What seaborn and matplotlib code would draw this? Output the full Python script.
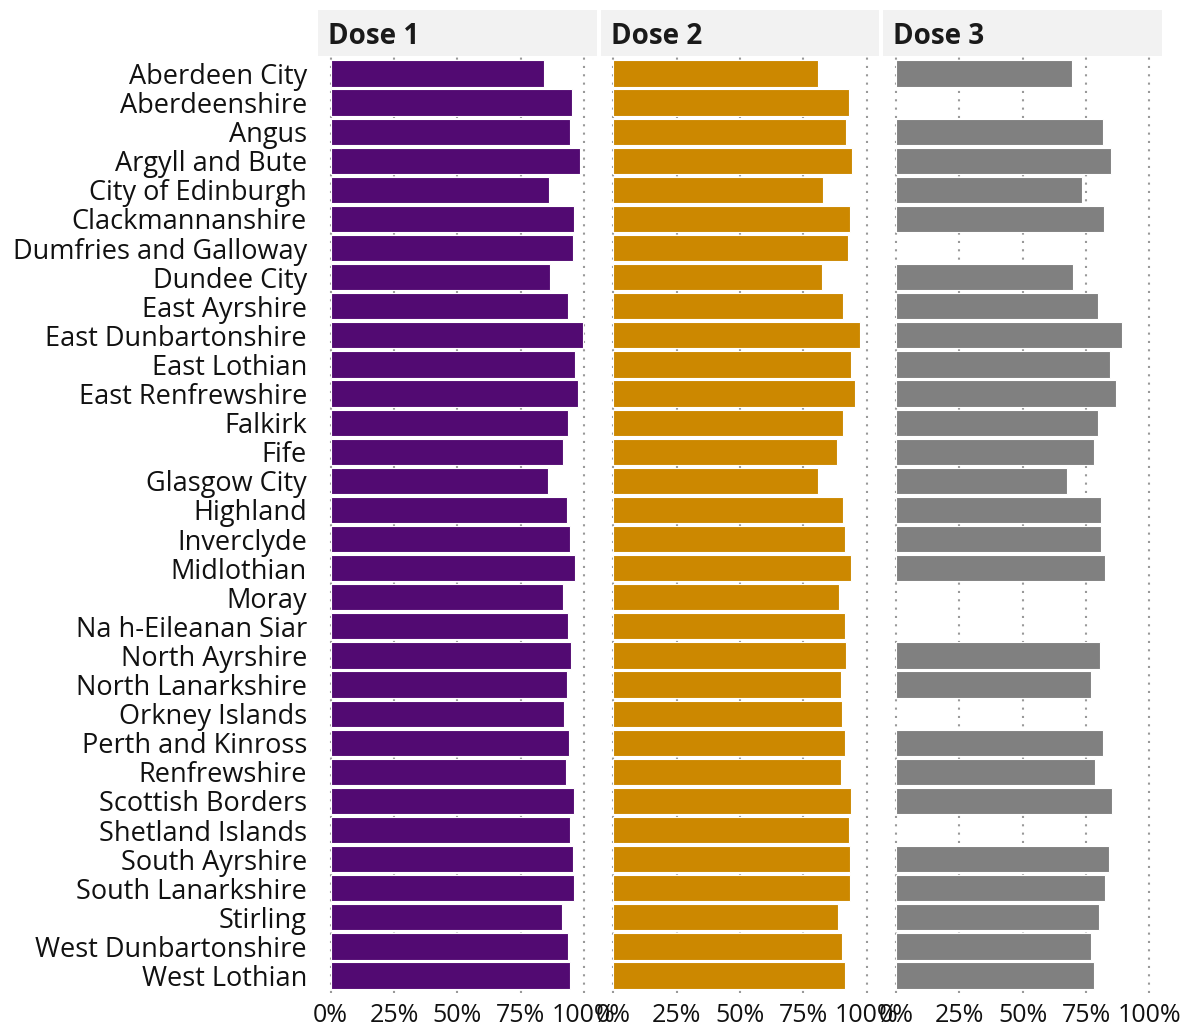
### Packages
import numpy as np
import pandas as pd
import matplotlib
matplotlib.use("Agg")
import matplotlib.pyplot as plt
from matplotlib.patches import Rectangle
from matplotlib.ticker import PercentFormatter
import seaborn as sns

sns.set_theme(style="white")
plt.rcParams["font.family"] = ["Open Sans", "DejaVu Sans"]

### Data
areas = [
    "Aberdeen City", "Aberdeenshire", "Angus", "Argyll and Bute", "City of Edinburgh",
    "Clackmannanshire", "Dumfries and Galloway", "Dundee City", "East Ayrshire",
    "East Dunbartonshire", "East Lothian", "East Renfrewshire", "Falkirk", "Fife",
    "Glasgow City", "Highland", "Inverclyde", "Midlothian", "Moray", "Na h-Eileanan Siar",
    "North Ayrshire", "North Lanarkshire", "Orkney Islands", "Perth and Kinross",
    "Renfrewshire", "Scottish Borders", "Shetland Islands", "South Ayrshire",
    "South Lanarkshire", "Stirling", "West Dunbartonshire", "West Lothian",
]
dose1 = [0.843, 0.953, 0.945, 0.984, 0.863, 0.961, 0.957, 0.867, 0.937, 0.996,
         0.965, 0.976, 0.937, 0.918, 0.859, 0.933, 0.945, 0.965, 0.918, 0.937,
         0.949, 0.933, 0.922, 0.941, 0.929, 0.961, 0.945, 0.957, 0.961, 0.914,
         0.937, 0.945]
dose2 = [0.809, 0.930, 0.918, 0.941, 0.828, 0.934, 0.926, 0.824, 0.906, 0.973,
         0.938, 0.953, 0.906, 0.883, 0.809, 0.906, 0.914, 0.938, 0.891, 0.914,
         0.918, 0.898, 0.902, 0.914, 0.898, 0.938, 0.930, 0.934, 0.934, 0.887,
         0.902, 0.914]
dose3 = [0.696, np.nan, 0.817, 0.848, 0.735, 0.821, np.nan, 0.700, 0.798, 0.891,
         0.844, 0.868, 0.798, 0.782, 0.673, 0.809, 0.809, 0.825, np.nan, np.nan,
         0.805, 0.770, np.nan, 0.817, 0.786, 0.852, np.nan, 0.840, 0.825, 0.802,
         0.770, 0.782]
doses = ["Dose 1", "Dose 2", "Dose 3"]
colours = ["#520A72", "#CC8800", "#808080"]

df = pd.DataFrame({
    "area": areas * 3,
    "dose": np.repeat(doses, len(areas)),
    "uptake": dose1 + dose2 + dose3,
})

### Plot
W, H = 1194, 1026
fig, axes = plt.subplots(1, 3, figsize=(W / 100, H / 100), dpi=100, sharey=True)
fig.subplots_adjust(left=318 / W, right=1162 / W, top=1 - 56 / H, bottom=1 - 993 / H,
                    wspace=0.0145)

for ax, dose, col in zip(axes, doses, colours):
    sub = df[(df["dose"] == dose) & df["uptake"].notna()]
    sns.barplot(data=sub, x="uptake", y="area", order=areas, orient="h",
                color=col, saturation=1, width=0.9, errorbar=None,
                edgecolor="white", linewidth=0.8, ax=ax)
    ax.set_xlim(-0.05, 1.05)
    ax.set_ylim(len(areas) - 0.4, -0.6)
    ax.set_xticks([0, 0.25, 0.5, 0.75, 1.0])
    ax.xaxis.set_major_formatter(PercentFormatter(1.0, decimals=0))
    ax.grid(axis="x", color="#999999", linestyle=(0, (1, 3)), linewidth=1.5)
    ax.set_axisbelow(True)
    for s in ax.spines.values():
        s.set_visible(False)
    ax.set_xlabel("")
    ax.set_ylabel("")
    ax.tick_params(axis="both", length=0, colors="#111111")
    ax.tick_params(axis="x", pad=7, labelsize=18)
    ax.tick_params(axis="y", pad=8, labelsize=19.5)
    # facet strip
    strip_h = 46 / (993 - 56)
    ax.add_patch(Rectangle((0, 1.0), 1, strip_h + 0.0005, transform=ax.transAxes,
                           facecolor="#F2F2F2", edgecolor="none", clip_on=False))
    ax.text(10 / 279, 1.0 + strip_h * 0.42, dose, transform=ax.transAxes,
            ha="left", va="center", fontsize=20, fontweight="bold", color="#1a1a1a")

fig.savefig("out.png", dpi=100)
